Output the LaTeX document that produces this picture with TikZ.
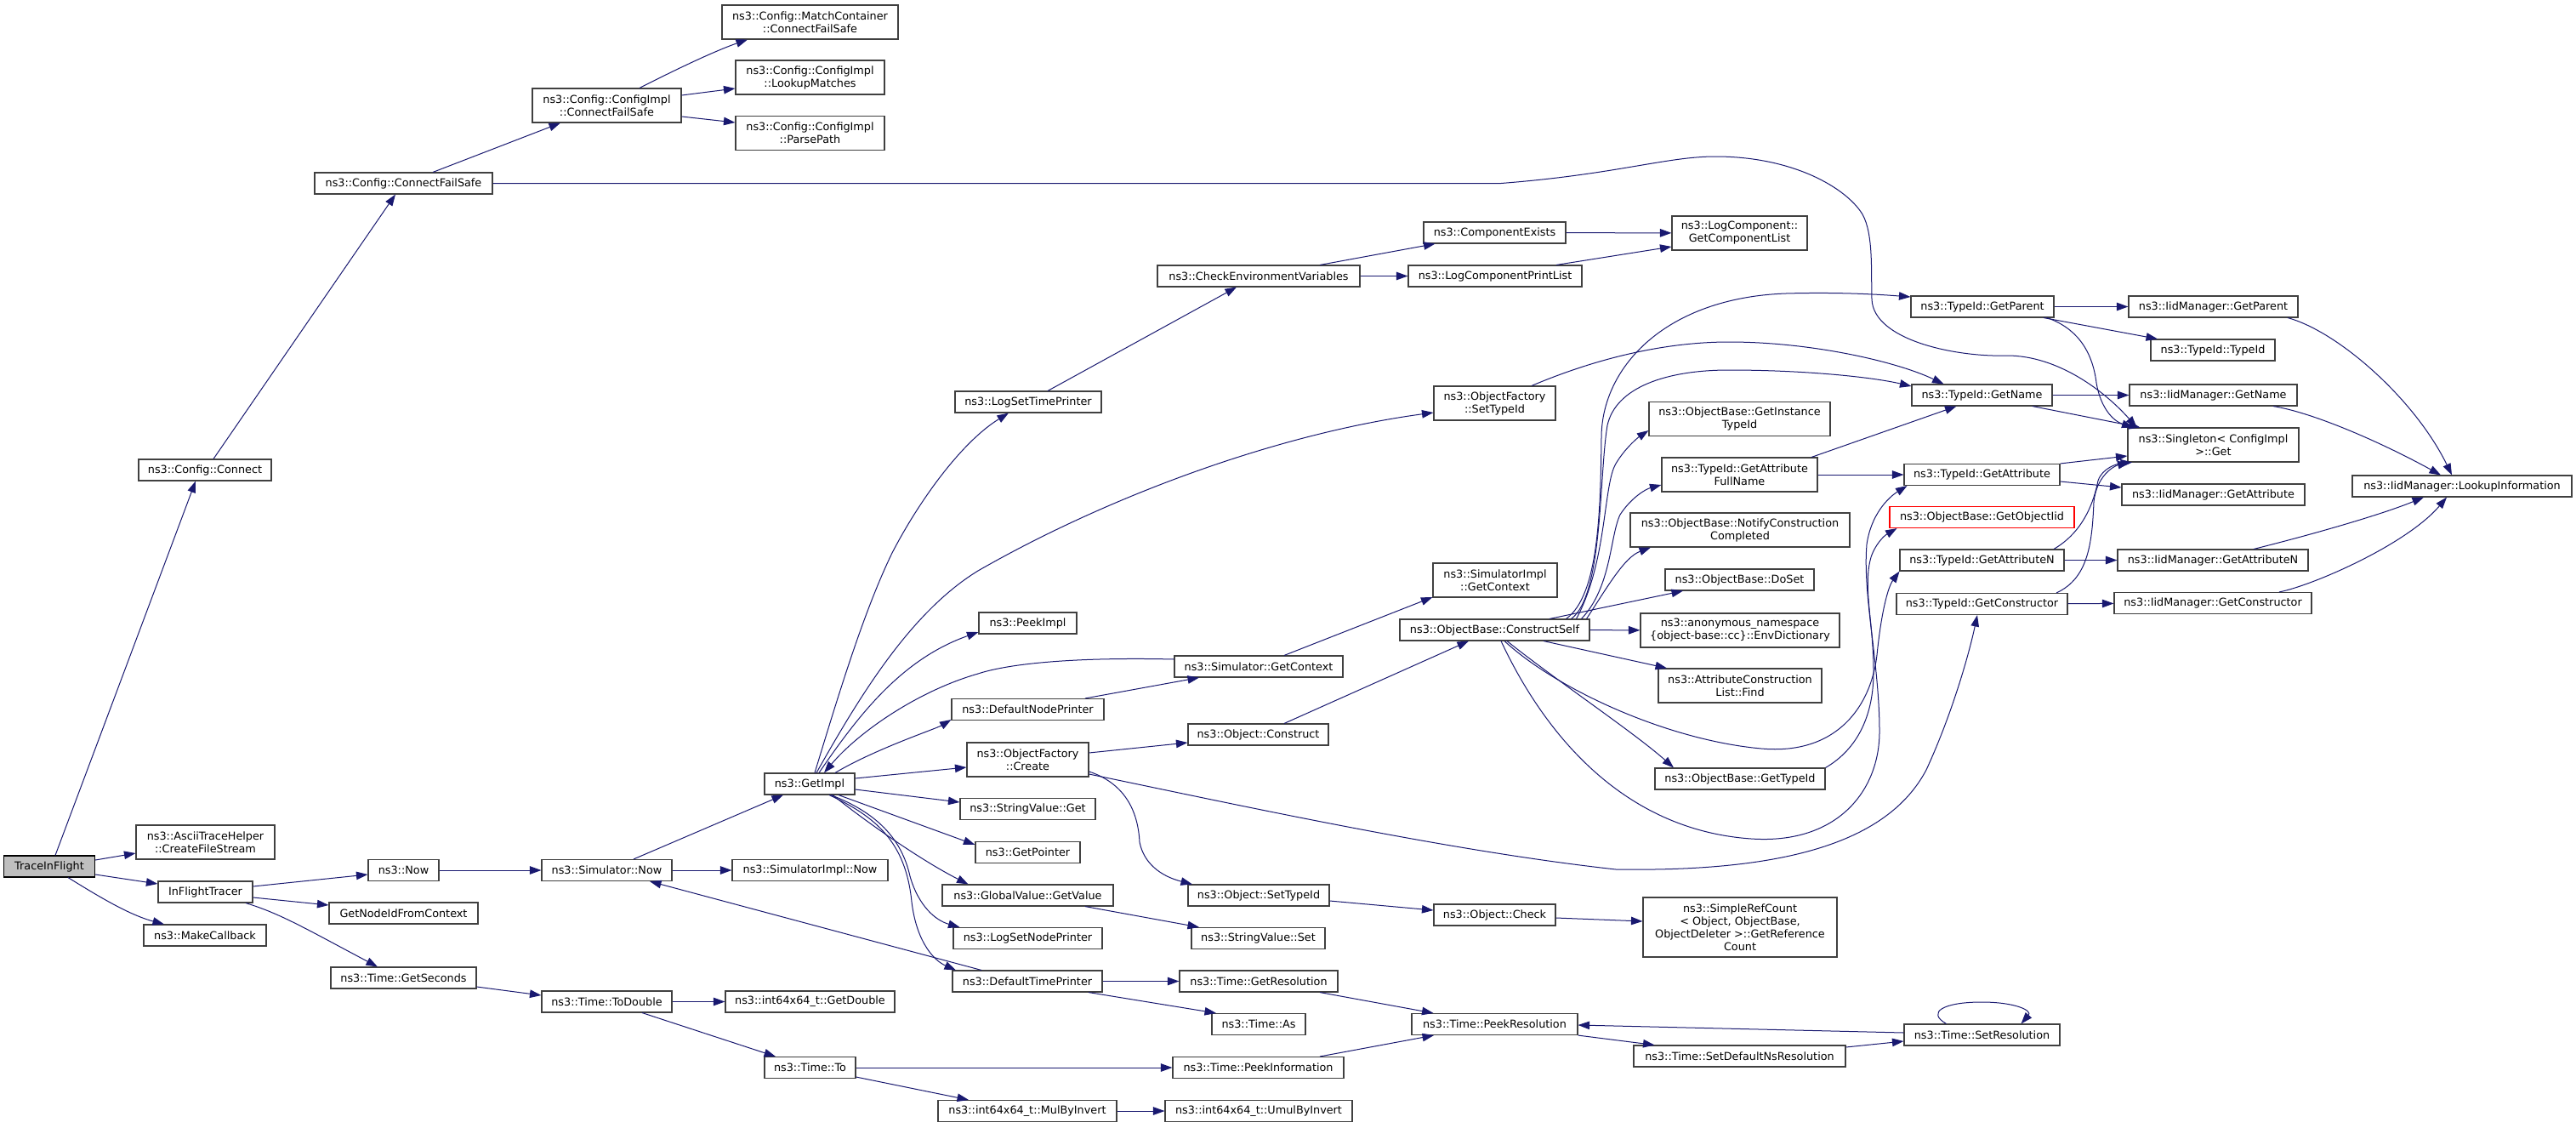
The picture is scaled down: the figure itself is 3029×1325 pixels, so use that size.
\documentclass[tikz,border=0pt]{standalone}
\usepackage{fontspec}
\setmainfont{DejaVu Sans}
\usetikzlibrary{arrows.meta}

\definecolor{edgeblue}{HTML}{191970}
\definecolor{rootgray}{HTML}{BFBFBF}
\definecolor{boxline}{HTML}{404040}

\tikzset{
    fn/.style={draw=boxline, line width=1.1pt, fill=white, rectangle, inner sep=0pt,
        minimum height=25, align=center, font=\fontsize{12.8}{15}\selectfont},
    fn2/.style={fn, minimum height=40},
    root/.style={fn, fill=rootgray, draw=black},
    trunc/.style={fn, draw=red},
    call/.style={draw=edgeblue, line width=1pt, -{Triangle[length=13.5pt,width=9.5pt]}},
}

\begin{document}
\begin{tikzpicture}[x=1pt, y=-1pt]
    \fill[white] (0,0) rectangle (3029,1325);
    \useasboundingbox (0,0) rectangle (3029,1325);

    % functions
    \node[root, minimum width=107] (tif) at (58,1018.5) {TraceInFlight};
    \node[fn, minimum width=156] (cfg) at (241,552.5) {ns3::Config::Connect};
    \node[fn, minimum width=209] (cfs) at (474.5,215.5) {ns3::Config::ConnectFailSafe};
    \node[fn2, minimum width=163] (ascii) at (241.5,990) {ns3::AsciiTraceHelper\\::CreateFileStream};
    \node[fn, minimum width=111] (ift) at (241.5,1048.5) {InFlightTracer};
    \node[fn, minimum width=144] (mcb) at (241,1099.5) {ns3::MakeCallback};
    \node[fn, minimum width=83] (now) at (474.5,1023) {ns3::Now};
    \node[fn, minimum width=175] (gnid) at (474.5,1073.5) {GetNodeIdFromContext};
    \node[fn, minimum width=171] (gsec) at (474.5,1149.5) {ns3::Time::GetSeconds};
    \node[fn2, minimum width=175] (cicfs) at (713.5,124) {ns3::Config::ConfigImpl\\::ConnectFailSafe};
    \node[fn2, minimum width=207] (mccfs) at (952.5,26) {ns3::Config::MatchContainer\\::ConnectFailSafe};
    \node[fn2, minimum width=175] (lmatch) at (952.5,91) {ns3::Config::ConfigImpl\\::LookupMatches};
    \node[fn2, minimum width=175] (ppath) at (952.5,156.5) {ns3::Config::ConfigImpl\\::ParsePath};
    \node[fn, minimum width=153] (simnow) at (713.5,1023) {ns3::Simulator::Now};
    \node[fn, minimum width=183] (simimplnow) at (952.5,1023) {ns3::SimulatorImpl::Now};
    \node[fn, minimum width=106] (getimpl) at (952,921.5) {ns3::GetImpl};
    \node[fn, minimum width=153] (todouble) at (713.5,1177.5) {ns3::Time::ToDouble};
    \node[fn, minimum width=199] (getdouble) at (952.5,1177.5) {ns3::int64x64\_t::GetDouble};
    \node[fn, minimum width=107] (timeto) at (952.5,1255) {ns3::Time::To};
    \node[fn, minimum width=210] (mulinv) at (1208,1306) {ns3::int64x64\_t::MulByInvert};
    \node[fn, minimum width=220] (umulinv) at (1480,1306) {ns3::int64x64\_t::UmulByInvert};
    \node[fn, minimum width=238] (checkenv) at (1480,324.5) {ns3::CheckEnvironmentVariables};
    \node[fn, minimum width=172] (logstp) at (1209,472.5) {ns3::LogSetTimePrinter};
    \node[fn, minimum width=115] (peekimpl) at (1208.5,732.5) {ns3::PeekImpl};
    \node[fn, minimum width=198] (simctx) at (1480,783.5) {ns3::Simulator::GetContext};
    \node[fn, minimum width=179] (dnp) at (1208.5,834) {ns3::DefaultNodePrinter};
    \node[fn, minimum width=165] (objconstr) at (1479.5,863.5) {ns3::Object::Construct};
    \node[fn2, minimum width=143] (ofcreate) at (1208.5,893) {ns3::ObjectFactory\\::Create};
    \node[fn, minimum width=159] (svget) at (1208.5,951) {ns3::StringValue::Get};
    \node[fn, minimum width=123] (getptr) at (1208.5,1002) {ns3::GetPointer};
    \node[fn, minimum width=201] (gvget) at (1208.5,1052.5) {ns3::GlobalValue::GetValue};
    \node[fn, minimum width=166] (objstid) at (1480,1052.5) {ns3::Object::SetTypeId};
    \node[fn, minimum width=175] (lsnp) at (1208.5,1103) {ns3::LogSetNodePrinter};
    \node[fn, minimum width=157] (svset) at (1479.5,1103) {ns3::StringValue::Set};
    \node[fn, minimum width=176] (dtp) at (1208,1153.5) {ns3::DefaultTimePrinter};
    \node[fn, minimum width=186] (getres) at (1480,1153.5) {ns3::Time::GetResolution};
    \node[fn, minimum width=110] (timeas) at (1480,1204) {ns3::Time::As};
    \node[fn, minimum width=201] (peekinfo) at (1479.5,1255) {ns3::Time::PeekInformation};
    \node[fn, minimum width=167] (compex) at (1757.5,273.5) {ns3::ComponentExists};
    \node[fn2, minimum width=159] (getcl) at (2045.5,274) {ns3::LogComponent::\\GetComponentList};
    \node[fn, minimum width=204] (lcpl) at (1758,324.5) {ns3::LogComponentPrintList};
    \node[fn2, minimum width=143] (ofstid) at (1757.5,474) {ns3::ObjectFactory\\::SetTypeId};
    \node[fn2, minimum width=213] (ginst) at (2045.5,492.5) {ns3::ObjectBase::GetInstance\\TypeId};
    \node[fn2, minimum width=183] (gafn) at (2045.5,558) {ns3::TypeId::GetAttribute\\FullName};
    \node[fn2, minimum width=258] (ncc) at (2046,623) {ns3::ObjectBase::NotifyConstruction\\Completed};
    \node[fn2, minimum width=146] (simimplctx) at (1758,682) {ns3::SimulatorImpl\\::GetContext};
    \node[fn, minimum width=175] (doset) at (2045.5,681.5) {ns3::ObjectBase::DoSet};
    \node[fn, minimum width=223] (cself) at (1757.5,740.5) {ns3::ObjectBase::ConstructSelf};
    \node[fn2, minimum width=234] (envdict) at (2046,741) {ns3::anonymous\_namespace\\\{object-base::cc\}::EnvDictionary};
    \node[fn2, minimum width=192] (acfind) at (2046,806) {ns3::AttributeConstruction\\List::Find};
    \node[fn, minimum width=200] (obgtid) at (2046,915.5) {ns3::ObjectBase::GetTypeId};
    \node[fn, minimum width=143] (objcheck) at (1757.5,1075.5) {ns3::Object::Check};
    \node[fn, minimum height=70, minimum width=228] (refcount) at (2046,1090) {ns3::SimpleRefCount\\< Object, ObjectBase,\\ObjectDeleter >::GetReference\\Count};
    \node[fn, minimum width=195] (peekres) at (1757.5,1204) {ns3::Time::PeekResolution};
    \node[fn, minimum width=249] (setdefns) at (2045.5,1241.5) {ns3::Time::SetDefaultNsResolution};
    \node[fn, minimum width=168] (getparent) at (2331,360.5) {ns3::TypeId::GetParent};
    \node[fn, minimum width=199] (iidparent) at (2602.5,360.5) {ns3::IidManager::GetParent};
    \node[fn, minimum width=146] (tidtid) at (2602,411.5) {ns3::TypeId::TypeId};
    \node[fn, minimum width=165] (getname) at (2330.5,464.5) {ns3::TypeId::GetName};
    \node[fn, minimum width=197] (iidname) at (2602.5,464.5) {ns3::IidManager::GetName};
    \node[fn2, minimum width=201] (singleton) at (2602.5,523) {ns3::Singleton< ConfigImpl\\>::Get};
    \node[fn, minimum width=183] (getattr) at (2330.5,558) {ns3::TypeId::GetAttribute};
    \node[fn, minimum width=215] (iidattr) at (2602.5,581.5) {ns3::IidManager::GetAttribute};
    \node[trunc, minimum width=217] (goiid) at (2330.5,608) {ns3::ObjectBase::GetObjectIid};
    \node[fn, minimum width=193] (getattrn) at (2330.5,658.5) {ns3::TypeId::GetAttributeN};
    \node[fn, minimum width=224] (iidattrn) at (2602,658.5) {ns3::IidManager::GetAttributeN};
    \node[fn, minimum width=201] (getctor) at (2330.5,710) {ns3::TypeId::GetConstructor};
    \node[fn, minimum width=232] (iidctor) at (2602,709) {ns3::IidManager::GetConstructor};
    \node[fn, minimum width=183] (setres) at (2330.5,1216.5) {ns3::Time::SetResolution};
    \node[fn, minimum width=258] (lookup) at (2895,571.5) {ns3::IidManager::LookupInformation};

    % TraceInFlight and config calls
    \draw[call] ([xshift=7pt]tif.north) -- ([xshift=-11pt]cfg.south);
    \draw[call] ([yshift=7.5pt]tif.east) -- ([yshift=-13pt]ascii.west);
    \draw[call] ([yshift=-9.5pt]tif.east) -- ([yshift=9.5pt]ift.west);
    \draw[call] ([xshift=22pt]tif.south) .. controls (110,1050) and (150,1075) .. ([xshift=-48pt]mcb.north);
    \draw[call] ([xshift=10pt]cfg.north) -- ([xshift=-9.5pt]cfs.south);
    \draw[call] ([xshift=34.5pt]cfs.north) -- ([xshift=-54.5pt]cicfs.south);
    \draw[call] (cfs.east) -- (1765,215.5) .. controls (1900,205) and (1960,184) .. (2017,184)
        .. controls (2110,184) and (2172,222) .. (2190,252) .. controls (2203,275) and (2200,320) .. (2201,352)
        .. controls (2203,400) and (2300,420) .. (2360,418) .. controls (2420,418) and (2475,460) .. ([xshift=-90pt]singleton.north);
    \draw[call] ([xshift=38.5pt]cicfs.north) .. controls (790,84) and (840,60) .. ([xshift=-73.5pt]mccfs.south);
    \draw[call] ([yshift=12pt]cicfs.east) -- ([yshift=-13pt]lmatch.west);
    \draw[call] ([yshift=-13pt]cicfs.east) -- ([yshift=12.5pt]ppath.west);

    % InFlightTracer and time
    \draw[call] ([yshift=6.5pt]ift.east) -- ([yshift=-5pt]now.west);
    \draw[call] ([yshift=-6.5pt]ift.east) -- ([yshift=9.5pt]gnid.west);
    \draw[call] ([xshift=47.5pt]ift.south) .. controls (330,1074) and (360,1092) .. ([xshift=-30.5pt]gsec.north);
    \draw[call] (now) -- (simnow);
    \draw[call] ([yshift=-10.5pt]gsec.east) -- ([yshift=7.5pt]todouble.west);
    \draw[call] ([xshift=31.5pt]simnow.north) -- ([xshift=-31pt]getimpl.south);
    \draw[call] (simnow) -- (simimplnow);
    \draw[call] (todouble) -- (getdouble);
    \draw[call] ([xshift=41.5pt]todouble.south) -- ([xshift=-40.5pt]timeto.north);
    \draw[call] (timeto) -- (peekinfo);
    \draw[call] ([yshift=-11pt]timeto.east) -- ([xshift=-69pt]mulinv.north);
    \draw[call] (mulinv) -- (umulinv);

    % GetImpl
    \draw[call] ([xshift=6pt]getimpl.north) .. controls (985,820) and (1015,720) .. (1049,650)
        .. controls (1080,590) and (1130,520) .. ([xshift=-23pt]logstp.south);
    \draw[call] ([xshift=8pt]getimpl.north) .. controls (1010,820) and (1070,720) .. (1150,671)
        .. controls (1300,585) and (1500,510) .. ([yshift=-11pt]ofstid.west);
    \draw[call] ([xshift=11pt]getimpl.north) .. controls (1010,840) and (1060,775) .. ([yshift=-10.5pt]peekimpl.west);
    \draw[call] ([yshift=8.5pt]simctx.west) .. controls (1250,772) and (1180,782) .. (1150,792)
        .. controls (1080,812) and (1010,860) .. ([xshift=17pt]getimpl.north);
    \draw[call] ([xshift=30pt]getimpl.north) .. controls (1030,880) and (1100,857) .. ([yshift=-12pt]dnp.west);
    \draw[call] ([yshift=6.5pt]getimpl.east) -- ([yshift=-9pt]ofcreate.west);
    \draw[call] ([yshift=-6.5pt]getimpl.east) -- ([yshift=8pt]svget.west);
    \draw[call] ([xshift=34pt]getimpl.south) -- ([yshift=9pt]getptr.west);
    \draw[call] ([xshift=27pt]getimpl.south) .. controls (1030,975) and (1090,1015) .. ([xshift=-70pt]gvget.north);
    \draw[call] ([xshift=25pt]getimpl.south) .. controls (1030,955) and (1060,985) .. (1070,1030)
        .. controls (1080,1065) and (1100,1082) .. ([xshift=-80pt]lsnp.north);
    \draw[call] ([xshift=23pt]getimpl.south) .. controls (1030,960) and (1065,990) .. (1072,1060)
        .. controls (1078,1110) and (1100,1130) .. ([xshift=-84pt]dtp.north);
    \draw[call] ([xshift=-54pt]dtp.north) -- ([xshift=50.5pt]simnow.south);

    % logging
    \draw[call] ([xshift=23pt]logstp.north) -- ([xshift=-26pt]checkenv.south);
    \draw[call] ([xshift=72pt]checkenv.north) -- ([xshift=-70pt]compex.south);
    \draw[call] (checkenv) -- (lcpl);
    \draw[call] (compex) -- (getcl);
    \draw[call] ([xshift=72pt]lcpl.north) -- ([yshift=-16pt]getcl.west);
    \draw[call] ([xshift=43.5pt]ofstid.north) .. controls (1880,420) and (1960,402) .. (2033,402)
        .. controls (2130,402) and (2230,425) .. ([xshift=-45pt]getname.north);

    % contexts and objects
    \draw[call] ([xshift=30pt]simctx.north) -- ([yshift=-20pt]simimplctx.west);
    \draw[call] ([xshift=67.5pt]dnp.north) -- ([xshift=-70pt]simctx.south);
    \draw[call] ([yshift=8pt]ofcreate.east) -- ([yshift=-9.5pt]objconstr.west);
    \draw[call] ([xshift=30.5pt]objconstr.north) -- ([xshift=-30.5pt]cself.south);
    \draw[call] ([yshift=-14pt]ofcreate.east) .. controls (1320,920) and (1338,950) .. (1340,990)
        .. controls (1345,1015) and (1365,1030) .. ([xshift=-78pt]objstid.north);
    \draw[call] ([yshift=-17pt]ofcreate.east) .. controls (1450,945) and (1700,1000) .. (1900,1022)
        .. controls (2100,1025) and (2220,990) .. (2265,905) .. controls (2295,840) and (2315,770) .. ([xshift=-5.5pt]getctor.south);
    \draw[call] ([yshift=-6.5pt]objstid.east) -- ([yshift=5.5pt]objcheck.west);
    \draw[call] ([yshift=-3.5pt]objcheck.east) -- ([yshift=7pt]refcount.west);
    \draw[call] ([xshift=67.5pt]gvget.south) -- ([xshift=-69.5pt]svset.north);

    % ConstructSelf
    \draw[call] ([xshift=84pt]cself.north) .. controls (1880,700) and (1882,600) .. (1883,513)
        .. controls (1884,430) and (1960,350) .. (2100,345) .. controls (2170,343) and (2220,347) .. ([yshift=11.5pt]getparent.west);
    \draw[call] ([xshift=90pt]cself.north) .. controls (1885,700) and (1880,560) .. (1890,500)
        .. controls (1900,455) and (1960,435) .. (2033,435) .. controls (2120,435) and (2200,443) .. ([yshift=10.5pt]getname.west);
    \draw[call] ([xshift=96pt]cself.north) .. controls (1890,660) and (1885,570) .. (1900,545)
        .. controls (1910,528) and (1925,515) .. ([yshift=-13.5pt]ginst.west);
    \draw[call] ([xshift=102pt]cself.north) .. controls (1895,690) and (1893,630) .. (1905,605)
        .. controls (1918,585) and (1935,575) .. ([yshift=-12pt]gafn.west);
    \draw[call] ([xshift=108pt]cself.north) .. controls (1890,690) and (1910,655) .. ([xshift=-105pt]ncc.south);
    \draw[call] ([xshift=64.5pt]cself.north) -- ([xshift=-66.5pt]doset.south);
    \draw[call] (cself) -- (envdict);
    \draw[call] ([xshift=57.5pt]cself.south) -- ([xshift=-86pt]acfind.north);
    \draw[call] ([xshift=14.5pt]cself.south) .. controls (1830,800) and (1920,860) .. ([xshift=-78pt]obgtid.north);
    \draw[call] ([xshift=11.5pt]cself.south) .. controls (1830,810) and (1960,870) .. (2071,880)
        .. controls (2160,888) and (2200,830) .. (2207,770) .. controls (2212,720) and (2220,690) .. ([xshift=-97pt]getattrn.south);
    \draw[call] ([xshift=7.5pt]cself.south) .. controls (1810,850) and (1900,975) .. (2059,986)
        .. controls (2160,993) and (2210,930) .. (2210,860) .. controls (2210,780) and (2190,700) .. (2195,640)
        .. controls (2200,605) and (2220,585) .. ([xshift=-88pt]getattr.south);
    \draw[call] (obgtid.north east) .. controls (2185,880) and (2203,840) .. (2203,790)
        .. controls (2203,730) and (2190,690) .. (2200,655) .. controls (2205,640) and (2215,630) .. ([xshift=-100pt]goiid.south);
    \draw[call] (gafn) -- (getattr);
    \draw[call] ([xshift=84.5pt]gafn.north) -- ([xshift=-30pt]getname.south);

    % TypeId
    \draw[call] (getparent) -- (iidparent);
    \draw[call] ([xshift=72pt]getparent.south) -- ([xshift=-65pt]tidtid.north);
    \draw[call] ([xshift=76pt]getparent.south) .. controls (2440,385) and (2460,410) .. (2465,450)
        .. controls (2470,480) and (2485,495) .. ([xshift=-94pt]singleton.north);
    \draw[call] (getname) -- (iidname);
    \draw[call] ([xshift=59.5pt]getname.south) -- ([xshift=-86pt]singleton.north);
    \draw[call] (getattr.north east) -- ([yshift=-13pt]singleton.west);
    \draw[call] ([yshift=-8pt]getattr.east) -- ([yshift=8.5pt]iidattr.west);
    \draw[call] (getattrn) -- (iidattrn);
    \draw[call] ([xshift=84.5pt]getattrn.north) .. controls (2450,625) and (2462,590) .. (2467,565)
        .. controls (2472,550) and (2490,545) .. ([xshift=-95.5pt]singleton.south);
    \draw[call] (getctor) -- (iidctor);
    \draw[call] ([xshift=87.5pt]getctor.north) .. controls (2455,680) and (2460,640) .. (2462,590)
        .. controls (2465,560) and (2485,548) .. ([xshift=-99pt]singleton.south);

    % IidManager
    \draw[call] ([xshift=87.5pt]iidparent.south) .. controls (2750,390) and (2840,470) .. ([xshift=-12pt]lookup.north);
    \draw[call] ([xshift=70.5pt]iidname.south) .. controls (2720,485) and (2800,520) .. ([xshift=-25pt]lookup.north);
    \draw[call] ([xshift=48pt]iidattrn.north) .. controls (2720,628) and (2800,605) .. ([xshift=-45pt]lookup.south);
    \draw[call] ([xshift=78pt]iidctor.north) .. controls (2720,688) and (2830,640) .. ([xshift=-18pt]lookup.south);

    % resolution
    \draw[call] ([xshift=72pt]dtp.south) -- ([xshift=-50pt]timeas.north);
    \draw[call] (dtp) -- (getres);
    \draw[call] ([xshift=72pt]getres.south) -- ([xshift=-72pt]peekres.north);
    \draw[call] ([xshift=72.5pt]peekinfo.north) -- ([xshift=-71.5pt]peekres.south);
    \draw[call] ([yshift=2.5pt]setres.west) -- ([yshift=-1pt]peekres.east);
    \draw[call] (peekres.south east) -- ([xshift=-100pt]setdefns.north);
    \draw[call] ([yshift=10.5pt]setdefns.east) -- ([yshift=-7.5pt]setres.west);
    \draw[call] ([xshift=-42pt]setres.north) .. controls (2265,1190) and (2285,1178) .. (2330,1178)
        .. controls (2370,1178) and (2390,1188) .. ([xshift=46pt]setres.north);
\end{tikzpicture}
\end{document}
